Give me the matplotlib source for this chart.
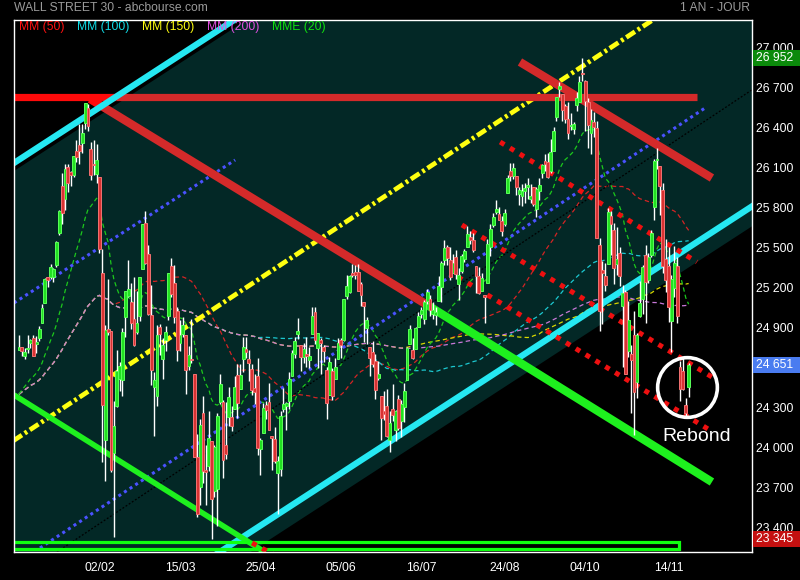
import numpy as np
import pandas as pd
import matplotlib
matplotlib.use("Agg")
import matplotlib.pyplot as plt
from matplotlib.patches import Polygon, Rectangle
from matplotlib.transforms import ScaledTranslation, blended_transform_factory

plt.rcParams['font.family'] = ['Liberation Sans', 'DejaVu Sans']

# ---------------- data (daily candles, index 0 = first bar) ----------------
opens = [24764, 24782, 24715, 24766, 24816, 24849, 24809, 24850, 24964, 25114,
         25308, 25312, 25311, 25400, 25638, 25988, 25892, 26137, 26093, 26071,
         26252, 26295, 26315, 26466, 26575, 26268, 26150, 26083, 26062, 25338,
         24086, 24917, 24902, 23992, 24338, 24540, 24535, 25007, 25165, 25124,
         24996, 24899, 25013, 25372, 25713, 25482, 25025, 24482, 24413, 24936,
         24690, 24837, 25017, 25388, 25262, 25056, 24815, 24879, 24877, 24643,
         24697, 24580, 23958, 23734, 24287, 23859, 23888, 24076, 23705, 23716,
         24371, 24374, 24049, 24259, 24259, 24316, 24573, 24466, 24694, 24771,
         24694, 24619, 24479, 24566, 24021, 24136, 24351, 24372, 24117, 24097,
         23836, 23865, 24318, 24341, 24376, 24569, 24731, 24883, 24800, 24708,
         24728, 24684, 24883, 25048, 24778, 24837, 24781, 24609, 24424, 24606,
         24542, 24690, 24838, 24833, 25166, 25198, 25342, 25346, 25344, 25255,
         25123, 24929, 24781, 24747, 24675, 24554, 24417, 24301, 24344, 24083,
         24321, 24161, 24390, 24229, 24330, 24534, 24806, 24764, 24769, 24936,
         25033, 24993, 25125, 25146, 25032, 25021, 25131, 25235, 25435, 25532,
         25437, 25342, 25457, 25255, 25353, 25447, 25537, 25607, 25589, 25394,
         25313, 25207, 25169, 25264, 25531, 25700, 25799, 25784, 25727, 25709,
         25938, 26107, 26069, 26067, 25932, 25916, 25954, 25981, 25892, 25983,
         25815, 25951, 26090, 26175, 26168, 26105, 26254, 26505, 26720, 26681,
         26589, 26490, 26439, 26416, 26599, 26620, 26833, 26779, 26624, 26389,
         26471, 26425, 25546, 25359, 25317, 25403, 25764, 25662, 25409, 25487,
         25089, 25194, 24751, 24733, 24871, 24518, 25016, 25144, 25474, 25289,
         25477, 25836, 26187, 26142, 25960, 25440, 25388, 24980, 25226, 25392,
         24630, 24600, 24345, 24480]
highs = [24874, 24784, 24778, 24871, 24840, 24871, 24864, 24941, 25105, 25299,
         25311, 25404, 25375, 25580, 25810, 26086, 26153, 26153, 26101, 26215,
         26339, 26459, 26458, 26617, 26609, 26318, 26338, 26307, 26062, 25520,
         24946, 25293, 24904, 24382, 24761, 24668, 24925, 25201, 25433, 25266,
         25306, 25203, 25309, 25709, 25800, 25546, 25250, 24599, 24950, 24957,
         24854, 24944, 25336, 25449, 25402, 25082, 24983, 25010, 24877, 24790,
         24990, 24580, 24132, 24242, 24413, 24052, 24305, 24076, 24048, 24292,
         24579, 24384, 24368, 24486, 24341, 24564, 24656, 24653, 24858, 24859,
         24759, 24658, 24583, 24700, 24102, 24364, 24376, 24510, 24117, 24185,
         23965, 24305, 24479, 24373, 24595, 24761, 24855, 25003, 24800, 24810,
         24859, 24784, 25087, 25086, 24891, 24854, 24796, 24630, 24711, 24628,
         24704, 24852, 24853, 25146, 25326, 25325, 25404, 25402, 25406, 25268,
         25123, 25010, 24783, 24832, 24734, 24680, 24418, 24452, 24466, 24304,
         24509, 24309, 24421, 24385, 24512, 24784, 24951, 24854, 24935, 25049,
         25087, 25138, 25216, 25177, 25119, 25085, 25314, 25432, 25583, 25552,
         25533, 25483, 25508, 25379, 25482, 25517, 25692, 25651, 25637, 25394,
         25385, 25342, 25169, 25590, 25704, 25790, 25888, 25834, 25769, 25816,
         26073, 26167, 26167, 26069, 25986, 26009, 26017, 26048, 26004, 25984,
         25986, 26048, 26156, 26230, 26239, 26340, 26436, 26657, 26770, 26682,
         26609, 26618, 26537, 26472, 26697, 26817, 26952, 26784, 26651, 26569,
         26545, 26477, 25599, 25431, 25414, 25828, 25803, 25715, 25684, 25531,
         25251, 25211, 25125, 24795, 25056, 24891, 25277, 25396, 25551, 25488,
         25664, 26197, 26277, 26142, 26016, 25593, 25532, 25322, 25541, 25458,
         24680, 24712, 24400, 24665]
lows = [24762, 24717, 24696, 24740, 24779, 24719, 24742, 24825, 24963, 25112,
        25235, 25294, 25268, 25387, 25627, 25709, 25814, 25945, 25993, 26055,
        26173, 26156, 26237, 26418, 26404, 26034, 26070, 26013, 25490, 23924,
        23778, 24876, 23849, 23360, 24335, 24455, 24413, 24857, 25161, 24917,
        24793, 24884, 24982, 25370, 25404, 25025, 24497, 24118, 24340, 24726,
        24545, 24757, 24985, 25159, 24964, 24681, 24755, 24855, 24429, 24609,
        24667, 23957, 23509, 23599, 23763, 23597, 23854, 23345, 23655, 23438,
        24353, 23803, 23941, 24189, 24150, 24316, 24253, 24466, 24595, 24703,
        24529, 24421, 24359, 23973, 23824, 24136, 24246, 24163, 23858, 23916,
        23532, 23813, 24296, 24162, 24321, 24563, 24700, 24845, 24604, 24662,
        24637, 24624, 24883, 24803, 24626, 24583, 24669, 24241, 24424, 24389,
        24542, 24690, 24703, 24828, 25141, 25188, 25309, 25294, 25201, 25089,
        24820, 24807, 24563, 24637, 24394, 24536, 24084, 24233, 24112, 23997,
        24232, 24076, 24162, 24110, 24222, 24534, 24806, 24692, 24769, 24936,
        25000, 24957, 25103, 25019, 24995, 24950, 25131, 25124, 25396, 25395,
        25283, 25336, 25291, 25138, 25339, 25418, 25537, 25557, 25497, 25186,
        25180, 25207, 24965, 25264, 25469, 25680, 25781, 25734, 25614, 25690,
        25938, 26032, 26047, 25926, 25846, 25838, 25862, 25891, 25862, 25844,
        25757, 25886, 26050, 26104, 26054, 26087, 26254, 26479, 26655, 26481,
        26466, 26344, 26410, 26382, 26556, 26620, 26782, 26400, 26275, 26231,
        26358, 25598, 24900, 24957, 25203, 25403, 25474, 25256, 25324, 25241,
        24637, 24582, 24710, 24287, 24122, 24404, 25005, 25032, 24960, 25265,
        25455, 25733, 26115, 25771, 25340, 25195, 24968, 24747, 25156, 24962,
        24380, 24464, 24268, 24407]
closes = [24782, 24754, 24746, 24774, 24838, 24719, 24824, 24922, 25075, 25295,
          25283, 25385, 25369, 25574, 25803, 25792, 26115, 26017, 26071, 26214,
          26210, 26252, 26392, 26616, 26439, 26076, 26149, 26186, 25520, 24345,
          24912, 24893, 23860, 24190, 24601, 24640, 24893, 25200, 25219, 24964,
          24797, 24962, 25309, 25709, 25410, 25029, 24608, 24538, 24874, 24884,
          24801, 24895, 25336, 25178, 25007, 24759, 24873, 24946, 24611, 24727,
          24683, 23958, 23533, 24202, 23857, 23849, 24103, 23644, 24033, 24264,
          24505, 23933, 23979, 24408, 24190, 24484, 24360, 24573, 24787, 24748,
          24665, 24463, 24448, 24024, 24084, 24323, 24311, 24163, 24100, 23925,
          23930, 24263, 24357, 24361, 24543, 24740, 24831, 24900, 24707, 24769,
          24714, 24715, 25013, 24834, 24886, 24812, 24753, 24361, 24668, 24416,
          24635, 24813, 24799, 25146, 25241, 25317, 25322, 25320, 25201, 25175,
          25090, 24987, 24700, 24657, 24461, 24580, 24252, 24283, 24117, 24216,
          24271, 24307, 24174, 24356, 24456, 24776, 24920, 24700, 24924, 25019,
          25064, 25120, 25199, 25064, 25058, 25044, 25241, 25414, 25527, 25451,
          25306, 25415, 25333, 25326, 25463, 25502, 25629, 25583, 25509, 25313,
          25187, 25300, 25162, 25558, 25669, 25758, 25822, 25733, 25656, 25790,
          26049, 26064, 26124, 25986, 25964, 25952, 25974, 25995, 25916, 25857,
          25971, 25998, 26145, 26154, 26062, 26246, 26405, 26657, 26743, 26562,
          26492, 26385, 26439, 26458, 26651, 26774, 26828, 26627, 26447, 26486,
          26430, 25599, 25053, 25340, 25250, 25798, 25706, 25379, 25444, 25317,
          25191, 24583, 24985, 24689, 24443, 24875, 25116, 25381, 25271, 25462,
          25636, 26180, 26191, 25989, 25388, 25287, 25081, 25290, 25413, 25018,
          24466, 24465, 24286, 24651]
# closes of the bars preceding the window (used by the moving averages)
warmup_closes = [23940, 24272, 24231, 24290, 24180, 24140, 24211, 24329,
                 24386, 24504, 24585, 24508, 24651, 24792, 24754, 24726]

tick_idx = [28, 56, 84, 112, 140, 169, 197, 226]
tick_labels = ['02/02', '15/03', '25/04', '05/06', '16/07', '24/08', '04/10', '14/11']
price_ticks = list(range(23400, 27001, 300))

ma_periods = [50, 100, 150, 200]
ma_colors = ['#d42424', '#1cc8d0', '#d8d800', '#c878d8']
ema_period = 20
ema_color = '#1cc81c'

# drawn analysis lines: (bar index pair, price pair)
cyan_upper = ([-2, 80], [26160, 27308])
cyan_lower = ([68, 256], [23220, 25852])
red_h = ([-1.74, 235.9], [26659, 26659])
red_down1 = ([24.7, 142.0], [26644, 25099])
green_down1 = ([142.0, 241.1], [25099, 23771])
red_down2 = ([174.3, 241.1], [26921, 26051])
green_down2 = ([-1.74, 84.9], [24424, 23254])
yellow_up = ([-2, 225], [24080, 27300])
blue_up1 = ([-1.74, 75.2], [25114, 26186])
blue_up2 = ([7.3, 238.7], [23276, 26576])
black_up = ([13.2, 256], [23246, 26726])
red_dot_a = ([167.4, 235.9], [26321, 25421])
red_dot_b = ([154.1, 241.1], [25699, 24559])
red_dot_c = ([152.7, 239.7], [25309, 24169])
red_dot_d = ([81.1, 90.8], [23314, 23201])
support_box = ([-3, 229.8], [23265, 23318])
rebound_point = (232.3, 24480)
rebound_text = (235.9, 24109)

# ---------------- figure ----------------
W, H = 800, 580
fig = plt.figure(figsize=(W / 100, H / 100), dpi=100)
fig.patch.set_facecolor('black')
ax = fig.add_axes([14 / W, 1 - 552 / H, (752 - 14) / W, (552 - 20) / H])
ax.set_facecolor('black')
ax.set_xlim(-1.74, 255.04)
ax.set_ylim(23246, 27236)
PX = 7.5  # price units per pixel


def extend(line, x):
    (x0, x1), (y0, y1) = line
    return y0 + (y1 - y0) * (x - x0) / (x1 - x0)


def slope(line):
    (x0, x1), (y0, y1) = line
    return (y1 - y0) / (x1 - x0)


# channel background (teal) between the two cyan lines
xa, xb = -3, 258
up_off, low_off = 8 * PX, 20 * PX
chan = Polygon([(xa, extend(cyan_upper, xa) - up_off), (xb, extend(cyan_upper, xb) - up_off),
                (xb, extend(cyan_lower, xb) - low_off), (xa, extend(cyan_lower, xa) - low_off)],
               closed=True, facecolor='#032826', edgecolor='none', zorder=0.5)
ax.add_patch(chan)


def cross_upper(line):
    # bar index where a line passes under the upper cyan line
    d0 = extend(line, 0) - extend(cyan_upper, 0)
    return -d0 / (slope(line) - slope(cyan_upper))


# moving averages
idx = np.arange(len(closes))
allc = pd.Series(warmup_closes + closes, dtype=float)
nw = len(warmup_closes)
for n, col in zip(ma_periods, ma_colors):
    ma = allc.rolling(n, min_periods=1).mean().values[nw:]
    ax.plot(idx, ma, color=col, lw=0.9, dashes=(3.5, 2.5), zorder=1)
ema = allc.ewm(span=ema_period, adjust=False).mean().values[nw:]
ax.plot(idx, ema, color=ema_color, lw=0.9, dashes=(3.5, 2.5), zorder=1.1)

# thin dotted lines
ax.plot(*black_up, color='black', lw=0.9, dashes=(1.5, 1.5), zorder=2)
for ln in (blue_up1, blue_up2):
    ax.plot(*ln, color='#4a52ff', lw=2.2, dashes=(1, 1.2), zorder=2)

# thick trend lines
RED_DARK, RED_BRIGHT = '#d42a2a', '#ff0a0a'
ax.plot(*yellow_up, color='#ffff10', lw=3.4, dashes=(2.2, 0.7, 0.6, 0.7), zorder=2.5)
ax.plot(*cyan_upper, color='#25e8f2', lw=4.5, solid_capstyle='butt', zorder=3)
ax.plot(*cyan_lower, color='#25e8f2', lw=4.5, solid_capstyle='butt', zorder=3)
for ln, w in ((red_h, 5.2), (red_down1, 6)):
    xc = cross_upper(ln)
    x0, x1 = ln[0]
    xc = min(max(xc, x0), x1)
    ax.plot([x0, xc], [extend(ln, x0), extend(ln, xc)], color=RED_BRIGHT, lw=w,
            solid_capstyle='butt', zorder=2.9)
    ax.plot([xc, x1], [extend(ln, xc), extend(ln, x1)], color=RED_DARK, lw=w,
            solid_capstyle='butt', zorder=2.9)
ax.plot(*red_down2, color=RED_DARK, lw=6, solid_capstyle='butt', zorder=3)
ax.plot(*green_down1, color='#1ef01e', lw=6, solid_capstyle='butt', zorder=3)
ax.plot(*green_down2, color='#1ef01e', lw=4, solid_capstyle='butt', zorder=3)
ax.add_patch(Rectangle((support_box[0][0], support_box[1][0]),
                       support_box[0][1] - support_box[0][0], support_box[1][1] - support_box[1][0],
                       fill=False, edgecolor='#10ff10', lw=2.3, zorder=3))
for ln in (red_dot_a, red_dot_b, red_dot_c, red_dot_d):
    ax.plot(*ln, color='#ee1010', lw=3.6, dashes=(1, 1.3), zorder=3.2)

# candles
o = np.array(opens, float); c = np.array(closes, float)
h = np.array(highs, float); lo = np.array(lows, float)
up = c >= o
ax.vlines(idx, lo, h, color='white', lw=1.0, zorder=4)
bottom = np.minimum(o, c)
height = np.maximum(np.abs(c - o), 8)
ax.bar(idx[up], height[up], bottom=bottom[up], width=1.0, color='#22e022',
       edgecolor='#5aff5a', lw=0.7, zorder=4.5)
ax.bar(idx[~up], height[~up], bottom=bottom[~up], width=1.0, color='#d83232',
       edgecolor='#f27272', lw=0.7, zorder=4.5)

# rebound annotation
ax.plot([rebound_point[0]], [rebound_point[1]], marker='o', ms=43, mfc='none',
        mec='white', mew=2.6, zorder=6, clip_on=False)
ax.text(rebound_text[0], rebound_text[1], 'Rebond', color='white', fontsize=14,
        ha='center', va='center', zorder=6)

# price tags on the right
tags = [(max(highs), '#0b8a0b'), (closes[-1], '#4a7cf0'), (min(lows), '#c41010')]
LABEL_SHIFT = 3.5  # px: the axis texts sit slightly above their level
# a tick label hidden under a tag is not shown
shown = [f"{v // 1000} {v % 1000:03d}"
         if all(abs((v + LABEL_SHIFT * PX) - t) > 8 * PX for t, _ in tags) else ''
         for v in price_ticks]

# axes styling
for sp in ax.spines.values():
    sp.set_color('white'); sp.set_linewidth(1.0); sp.set_zorder(7)
ax.set_xticks(tick_idx)
ax.set_xticklabels(tick_labels)
ax.tick_params(axis='x', length=0, pad=7.5, labelsize=8.7, labelcolor='white')
ax.yaxis.tick_right()
ax.set_yticks(price_ticks)
ax.set_yticklabels(shown)
ax.tick_params(axis='y', length=0, pad=3, labelsize=8.7, labelcolor='white')
for lab in ax.get_yticklabels():
    lab.set_transform(lab.get_transform() + ScaledTranslation(0, LABEL_SHIFT / 100, fig.dpi_scale_trans))

btr = blended_transform_factory(fig.transFigure, ax.transData)
for val, col in tags:
    r = Rectangle((753 / W, val - 8 * PX), 47 / W, 16 * PX, transform=btr,
                  facecolor=col, edgecolor='none', zorder=5)
    fig.add_artist(r)
    fig.text(756 / W, val, f"{val // 1000} {val % 1000:03d}", transform=btr, color='white',
             fontsize=8.7, va='center', ha='left', zorder=6)

# header and legend
fig.text(14 / W, 1 - 8 / H, 'WALL STREET 30 - abcbourse.com', color='#9a9a9a',
         fontsize=8.7, va='center', ha='left')
fig.text(750 / W, 1 - 8 / H, '1 AN - JOUR', color='#9a9a9a', fontsize=8.7,
         va='center', ha='right')
legend_items = [('MM (50)', '#ff1010', 19), ('MM (100)', '#10dce6', 77),
                ('MM (150)', '#ffff10', 142), ('MM (200)', '#e050e0', 207),
                ('MME (20)', '#10e010', 272)]
for txt, col, xp in legend_items:
    fig.text(xp / W, 1 - 27 / H, txt, color=col, fontsize=8.7, va='center', ha='left', zorder=8)

fig.savefig('out.png', dpi=100, facecolor='black')
